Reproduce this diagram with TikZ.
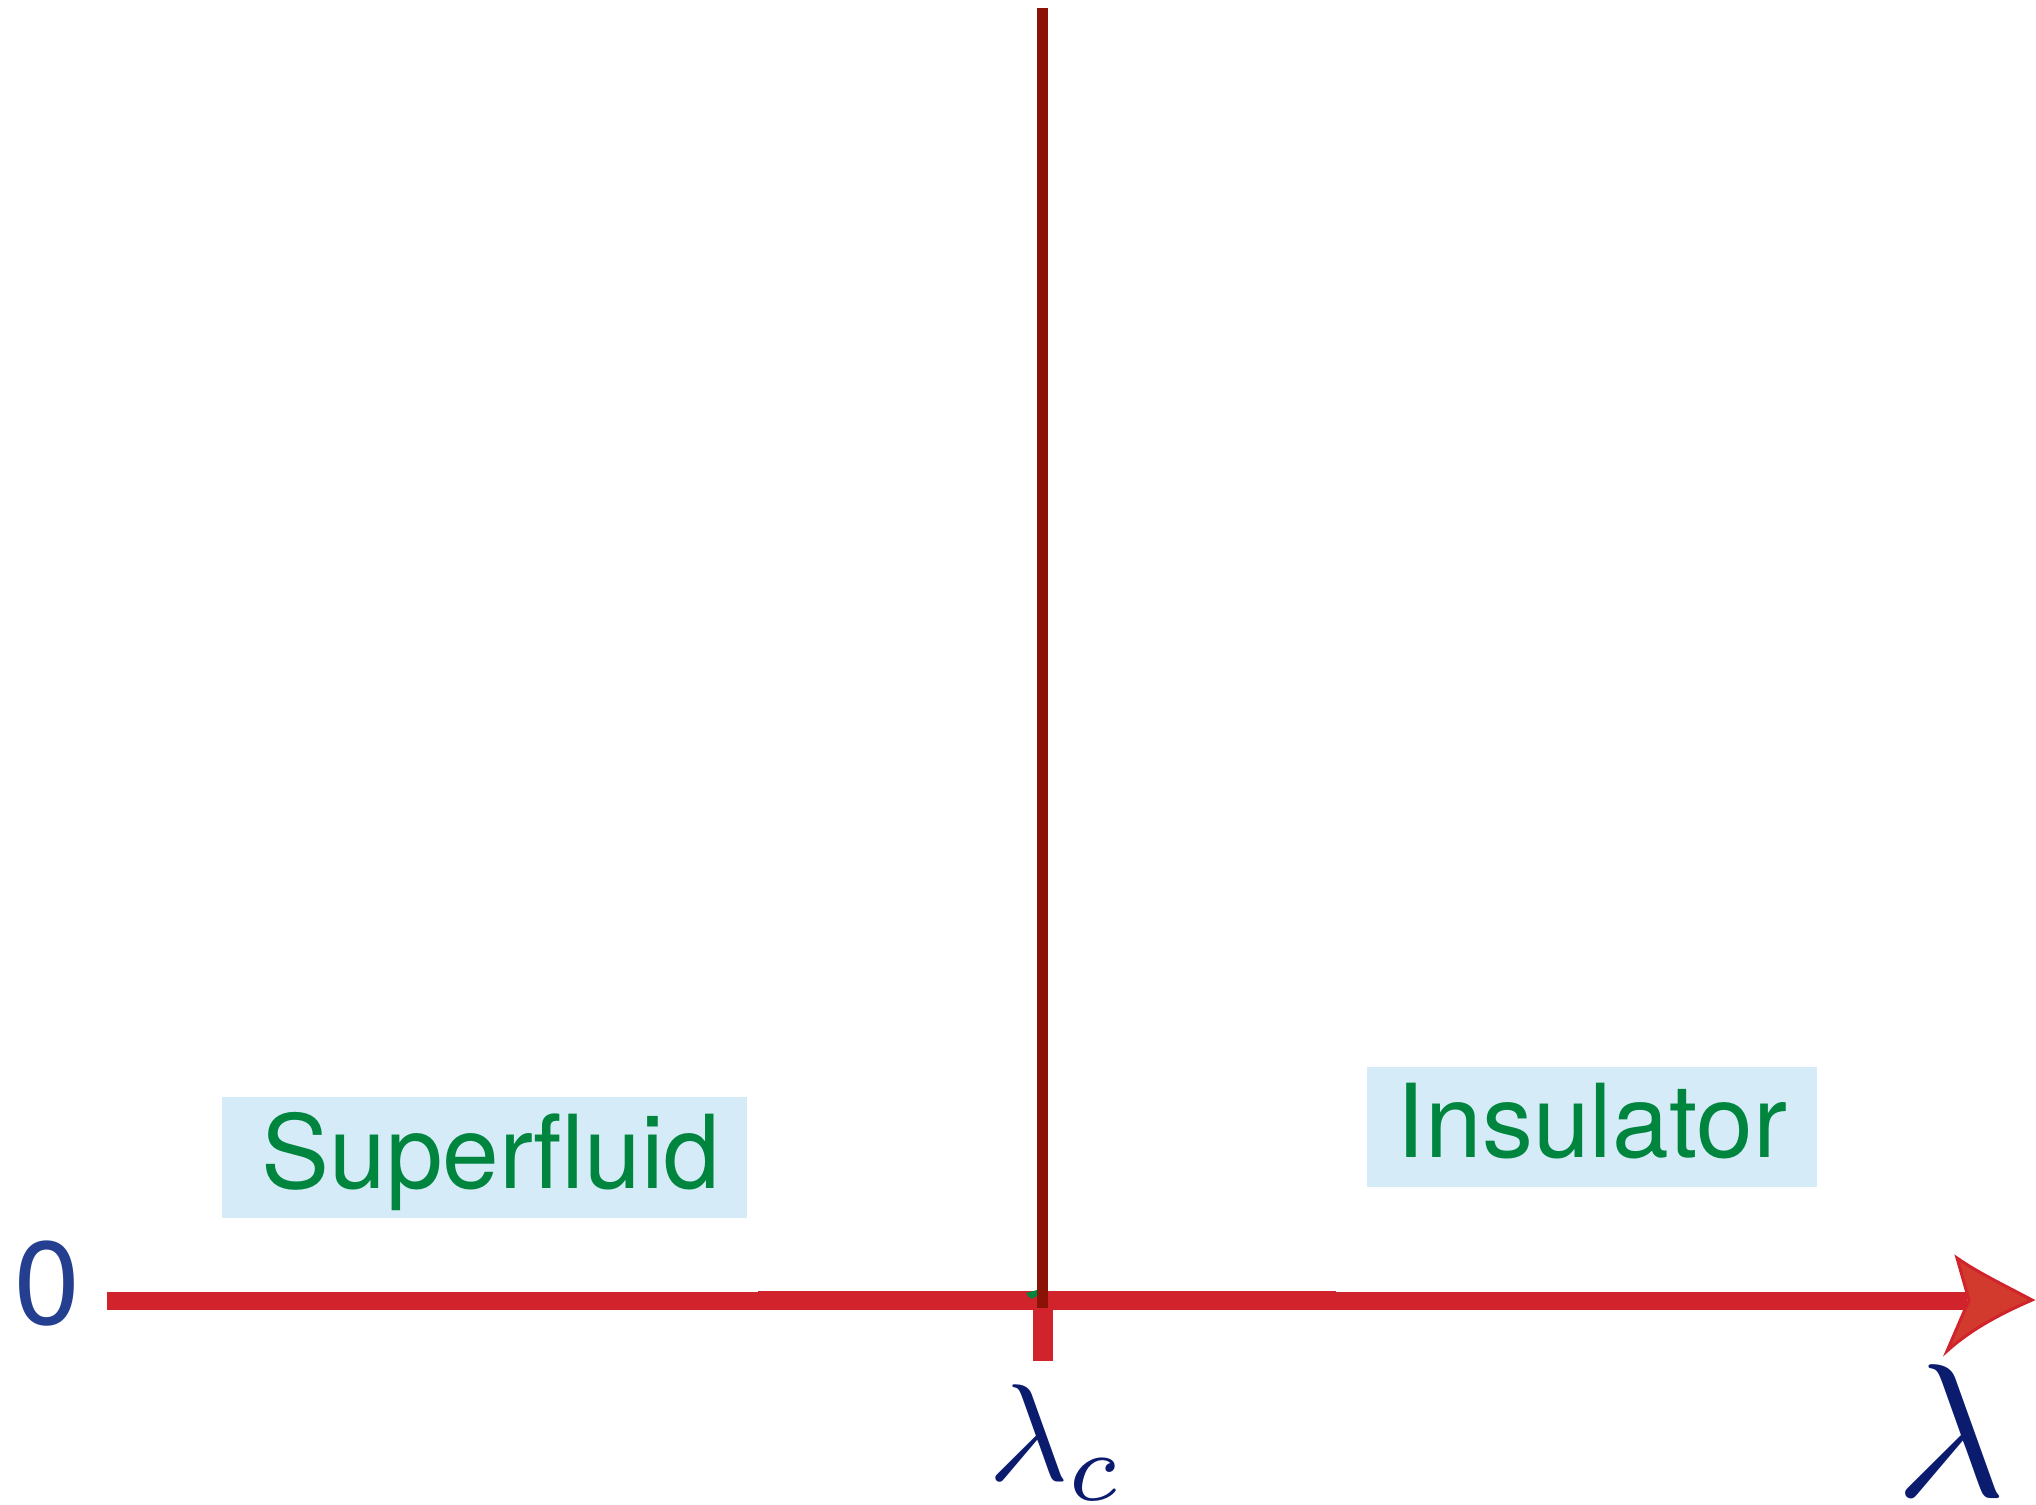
\documentclass[tikz,border=0pt]{standalone}
\usepackage{fontspec}
\newfontfamily\heros{TeX Gyre Heros}
\definecolor{axisred}{HTML}{D0232B}
\definecolor{vdark}{HTML}{8A1206}
\definecolor{headfill}{HTML}{D33A2E}
\definecolor{txtgreen}{HTML}{00853F}
\definecolor{boxblue}{HTML}{D5ECF8}
\definecolor{zeroblue}{HTML}{243F8F}
\definecolor{lamblue}{HTML}{0B1B6E}
\tikzset{
  phasebox/.style={fill=boxblue, draw=none, inner sep=0pt},
  phaselabel/.style={text=txtgreen, inner sep=0pt, font=\heros\fontsize{102}{115}\selectfont},
  axisline/.style={draw=axisred, line width=18, line cap=butt},
  lamlabel/.style={text=lamblue, inner sep=0pt},
}
\begin{document}
\begin{tikzpicture}[x=1pt,y=-1pt]
\useasboundingbox (0,0) rectangle (2036,1504);
% coordinates
\coordinate (axstart) at (107,1301);
\coordinate (axend) at (1967,1301);
\coordinate (thickA) at (758,1300.5);
\coordinate (thickB) at (1336,1300.5);
\coordinate (vtop) at (1042.5,8);
\coordinate (vbot) at (1042.5,1308);
\coordinate (ticktop) at (1042.5,1308);
\coordinate (tickbot) at (1042.5,1361);
% boxes
\node[phasebox, minimum width=525, minimum height=121] (sfbox) at (484.5,1157.5) {};
\node[phasebox, minimum width=450, minimum height=120] (insbox) at (1592,1127) {};
\node[phaselabel, anchor=base] (sf) at (491,1188) {Superfluid};
\node[phaselabel, anchor=base] (ins) at (1592,1157) {Insulator};
% zero
\node[text=zeroblue, inner sep=0pt, anchor=base, font=\heros\fontsize{118}{130}\selectfont] (zero) at (47,1324) {0};
% axis
\draw[axisline] (axstart) -- (axend);
\draw[draw=axisred, line width=19, line cap=butt] (thickA) -- (thickB);
% arrow head
\filldraw[fill=headfill, draw=axisred, line width=3, line join=miter]
  (2032,1300) .. controls (2000,1283) and (1977,1272) .. (1957,1258)
  -- (1969,1300) -- (1947,1351)
  .. controls (1968,1332) and (1995,1316) .. (2032,1300) -- cycle;
% tick and vertical line
\draw[draw=axisred, line width=20, line cap=butt] (ticktop) -- (tickbot);
\draw[draw=vdark, line width=11, line cap=butt] (vtop) -- (vbot);
\fill[txtgreen] (1026,1293) -- (1037,1290) -- (1037,1296) -- (1031,1299) -- cycle;
% lambda labels
\node[lamlabel, anchor=base west] (lamc) at (988,1480) {\raisebox{0pt}[\height][0pt]{\scalebox{13.8}{$\lambda_c$}}};
\node[lamlabel, anchor=base west] (lam) at (1895,1496) {\raisebox{0pt}[\height][0pt]{\scalebox{19}{$\lambda$}}};
\end{tikzpicture}
\end{document}
